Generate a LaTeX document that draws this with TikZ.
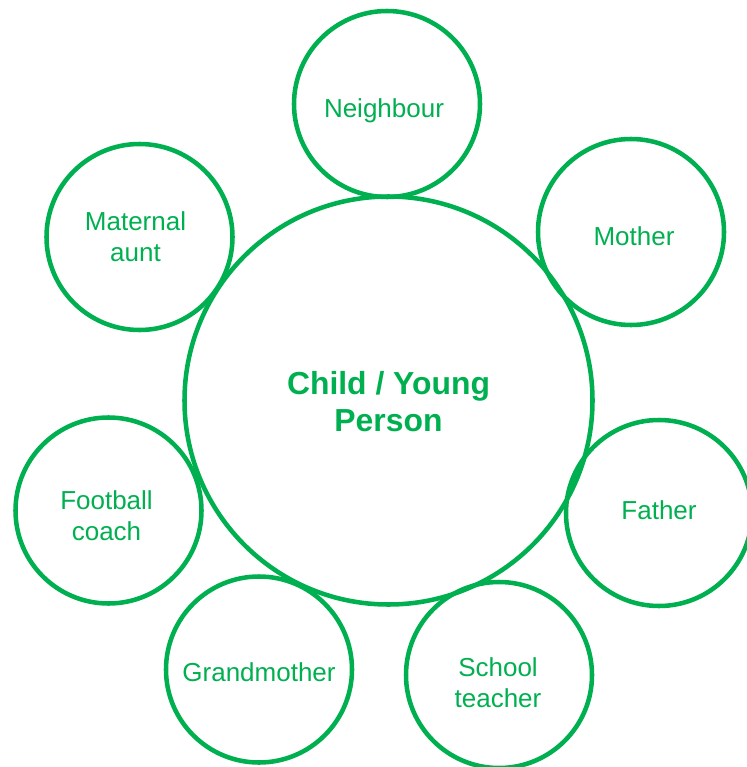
\documentclass[tikz,border=0pt]{standalone}
\usepackage{fontspec}
\setmainfont{Liberation Sans}
\definecolor{tgreen}{HTML}{00B050}
\begin{document}
\begin{tikzpicture}[x=0.75pt,y=-0.75pt,
  ring/.style={circle,draw=tgreen,line width=3.4pt,minimum size=139.5pt,inner sep=0pt},
  bigring/.style={circle,draw=tgreen,line width=3.4pt,minimum size=306pt,inner sep=0pt},
  lbl/.style={text=tgreen,align=center,inner sep=0pt,font=\fontsize{19.5}{23.25}\selectfont},
  biglbl/.style={text=tgreen,align=center,inner sep=0pt,font=\fontsize{23.9}{27.75}\selectfont\bfseries}]
\useasboundingbox (0,0) rectangle (746,767);
\node[bigring] (c) at (388.5,400.5) {};
\node[ring] (n) at (387,104) {};
\node[ring] (m) at (631,232) {};
\node[ring] (a) at (139.5,237) {};
\node[ring] (f) at (108.5,510.5) {};
\node[ring] (fa) at (659,513) {};
\node[ring] (g) at (259,669.5) {};
\node[ring] (s) at (499,675) {};
\node[biglbl] (ct) at ([shift={(0,1)}]c.center) {Child / Young\\Person};
\node[lbl] (nt) at ([shift={(-3,7)}]n.center) {Neighbour};
\node[lbl] (mt) at ([shift={(3,4)}]m.center) {Mother};
\node[lbl] (at) at ([shift={(-4,0)}]a.center) {Maternal\\aunt};
\node[lbl] (ft) at ([shift={(-2,5)}]f.center) {Football\\coach};
\node[lbl] (fat) at ([shift={(0,-3)}]fa.center) {Father};
\node[lbl] (gt) at ([shift={(0,3)}]g.center) {Grandmother};
\node[lbl] (st) at ([shift={(-1,8)}]s.center) {School\\teacher};
\end{tikzpicture}
\end{document}
